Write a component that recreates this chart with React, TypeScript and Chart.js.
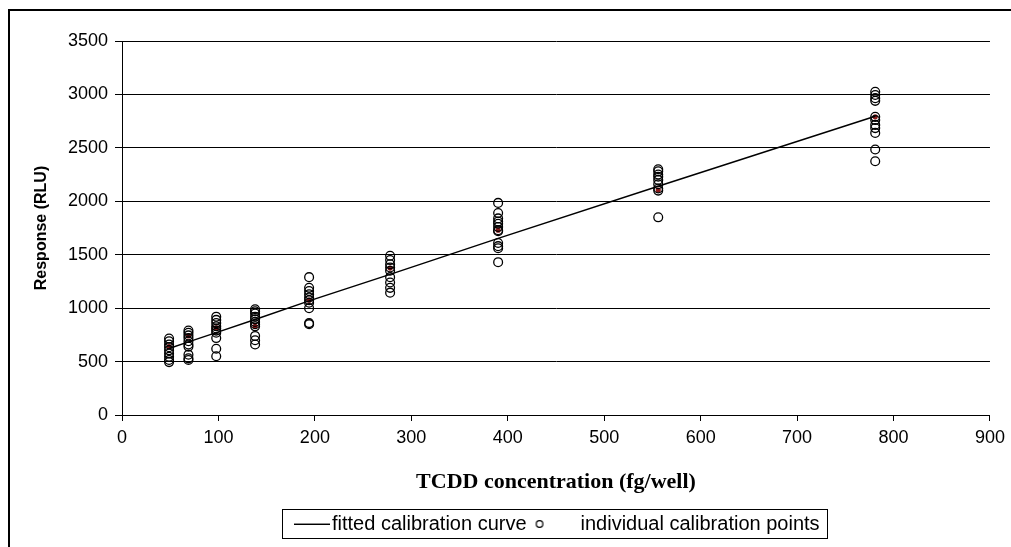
import React, { useEffect, useRef } from "react";
import { Chart, registerables } from "chart.js";

Chart.register(...registerables);

// TCDD concentration levels (fg/well)
const concentrations = [48.8, 68.9, 97.7, 138, 194, 278, 390, 556, 781];

// Fitted calibration curve response at each level (RLU)
const fittedResponses = [622, 684, 771, 893, 1068, 1316, 1653, 2140, 2795];

// Individual calibration point responses per level (RLU)
const level1 = [715, 690, 660, 635, 605, 575, 545, 515, 495];
const level2 = [790, 770, 745, 720, 690, 660, 640, 565, 530, 515];
const level3 = [920, 890, 860, 830, 810, 790, 770, 720, 620, 550];
const level4 = [990, 970, 950, 920, 895, 870, 850, 830, 740, 700, 660];
const level5 = [1290, 1190, 1160, 1130, 1100, 1075, 1050, 1000, 860, 850];
const level6 = [1490, 1450, 1410, 1380, 1350, 1290, 1240, 1190, 1145];
const level7 = [1985, 1890, 1840, 1810, 1790, 1760, 1730, 1720, 1610, 1580, 1560, 1430];
const level8 = [2300, 2280, 2250, 2230, 2200, 2160, 2120, 2100, 1850];
const level9 = [3025, 2995, 2965, 2940, 2790, 2760, 2715, 2685, 2640, 2485, 2375];
const replicateLevels = [level1, level2, level3, level4, level5, level6, level7, level8, level9];

// Dark red marks visible inside each cluster
const markedResponses = [640, 740, 815, 830, 1075, 1375, 1730, 2105, 2790];

const xTickValues = [0, 100, 200, 300, 400, 500, 600, 700, 800, 900];
const yTickValues = [0, 500, 1000, 1500, 2000, 2500, 3000, 3500];

const legendLabels = ["fitted calibration curve", "individual calibration points"];
const xTitle = "TCDD concentration (fg/well)";
const yTitle = "Response (RLU)";

export default function App() {
  const canvasRef = useRef<HTMLCanvasElement | null>(null);

  useEffect(() => {
    const canvas = canvasRef.current;
    if (!canvas) return;

    // legend swatch images
    const lineImg = document.createElement("canvas");
    lineImg.width = 52;
    lineImg.height = 2;
    {
      const c = lineImg.getContext("2d")!;
      c.fillStyle = "#000";
      c.fillRect(16, 1, 36, 1);
      c.fillStyle = "rgba(0,0,0,0.45)";
      c.fillRect(16, 0, 36, 1);
    }
    const circleImg = document.createElement("canvas");
    circleImg.width = 40;
    circleImg.height = 12;
    {
      const c = circleImg.getContext("2d")!;
      c.strokeStyle = "#000";
      c.lineWidth = 1.2;
      c.beginPath();
      c.arc(7, 6, 3.3, 0, Math.PI * 2);
      c.stroke();
    }

    const pointData = concentrations.flatMap((c, i) =>
      replicateLevels[i].map((r) => ({ x: c, y: r }))
    );
    const lineData = concentrations.map((c, i) => ({ x: c, y: fittedResponses[i] }));
    const markData = concentrations.map((c, i) => ({ x: c, y: markedResponses[i] }));

    const LEGEND_START = 286;

    const framePlugin = {
      id: "frame",
      afterLayout(chart: any) {
        const lg = chart.legend;
        if (!lg || !lg.lineWidths) return;
        const pad = lg.options.labels.padding;
        lg.left = LEGEND_START - 20;
        lg.right = LEGEND_START + 20 + lg.lineWidths[0] - pad;
        lg.width = lg.right - lg.left;
      },
      beforeDraw(chart: any) {
        const ctx = chart.ctx;
        ctx.save();
        ctx.fillStyle = "#fff";
        ctx.fillRect(0, 0, chart.width, chart.height);
        ctx.strokeStyle = "#000";
        ctx.lineWidth = 2;
        ctx.strokeRect(9, 10, 1200, 800);
        ctx.restore();
      },
      afterDraw(chart: any) {
        const boxes = chart.legend?.legendHitBoxes;
        if (!boxes || !boxes.length) return;
        let l = Infinity, r = -Infinity, t = Infinity, b = -Infinity;
        boxes.forEach((h: any) => {
          l = Math.min(l, h.left);
          r = Math.max(r, h.left + h.width);
          t = Math.min(t, h.top);
          b = Math.max(b, h.top + h.height);
        });
        const ctx = chart.ctx;
        ctx.save();
        ctx.strokeStyle = "#000";
        ctx.lineWidth = 1;
        const x0 = Math.round(l - 4) + 0.5;
        const y0 = Math.round(t - 5) + 0.5;
        ctx.strokeRect(x0, y0, Math.round(r + 7) - x0 + 0.5, Math.round(b + 4) - y0 + 0.5);
        ctx.restore();
      },
    };

    const chart = new Chart(canvas, {
      type: "scatter",
      data: {
        datasets: [
          {
            label: legendLabels[0],
            data: lineData,
            showLine: true,
            borderColor: "#000",
            borderWidth: 1.5,
            pointRadius: 0,
            fill: false,
            order: 0,
          },
          {
            label: legendLabels[1],
            data: pointData,
            pointStyle: "circle",
            pointRadius: 4.4,
            pointBorderWidth: 1.3,
            pointBorderColor: "#000",
            pointBackgroundColor: "rgba(0,0,0,0)",
            order: 1,
          },
          {
            label: "marked",
            data: markData,
            pointStyle: "circle",
            pointRadius: 2.6,
            pointBorderWidth: 0,
            pointBackgroundColor: "#8b1a1a",
            pointBorderColor: "#8b1a1a",
            order: 2,
          },
        ],
      },
      options: {
        responsive: false,
        animation: false,
        events: [],
        layout: { padding: { left: 20, right: 19, top: 41, bottom: 3 } },
        plugins: {
          tooltip: { enabled: false },
          legend: {
            display: true,
            position: "bottom",
            labels: {
              usePointStyle: true,
              pointStyleWidth: 36,
              padding: 8,
              color: "#000",
              font: { family: "Liberation Sans", size: 20 },
              generateLabels: () => [
                {
                  text: legendLabels[0],
                  pointStyle: lineImg as any,
                  fillStyle: "#000",
                  strokeStyle: "#000",
                  lineWidth: 0,
                  hidden: false,
                  datasetIndex: 0,
                  fontColor: "#000",
                },
                {
                  text: legendLabels[1],
                  pointStyle: circleImg as any,
                  fillStyle: "#000",
                  strokeStyle: "#000",
                  lineWidth: 0,
                  hidden: false,
                  datasetIndex: 1,
                  fontColor: "#000",
                },
              ],
            },
          },
        },
        scales: {
          x: {
            type: "linear",
            min: 0,
            max: 900,
            afterBuildTicks: (scale: any) => {
              scale.ticks = xTickValues.map((v) => ({ value: v }));
            },
            afterFit: (scale: any) => {
              scale.height = 91;
            },
            ticks: {
              color: "#000",
              padding: 6,
              maxRotation: 0,
              callback: (v: any) => String(v),
              font: { family: "Liberation Sans", size: 18 },
            },
            grid: {
              drawOnChartArea: false,
              drawTicks: true,
              tickLength: 6,
              color: "#000",
            },
            border: { color: "#000", width: 1 },
            title: {
              display: true,
              text: xTitle,
              color: "#000",
              font: { family: "Liberation Serif", size: 22, weight: "bold" },
              padding: { top: 0, bottom: 10 },
            },
          },
          y: {
            type: "linear",
            min: 0,
            max: 3500,
            afterBuildTicks: (scale: any) => {
              scale.ticks = yTickValues.map((v) => ({ value: v }));
            },
            afterFit: (scale: any) => {
              scale.width = 102;
            },
            ticks: {
              color: "#000",
              padding: 7,
              callback: (v: any) => String(v),
              font: { family: "Liberation Sans", size: 18 },
            },
            grid: {
              color: "#000",
              lineWidth: 1,
              drawTicks: true,
              tickLength: 7,
            },
            border: { color: "#000", width: 1 },
            title: {
              display: true,
              text: yTitle,
              color: "#000",
              font: { family: "Liberation Sans", size: 16, weight: "bold" },
              padding: { top: 12, bottom: 0 },
            },
          },
        },
      },
      plugins: [framePlugin],
    } as any);

    return () => chart.destroy();
  }, []);

  return (
    <div style={{ position: "fixed", left: 0, top: 0, width: 1011, height: 547, background: "#fff" }}>
      <canvas ref={canvasRef} width={1011} height={547} style={{ display: "block", width: 1011, height: 547 }} />
    </div>
  );
}
